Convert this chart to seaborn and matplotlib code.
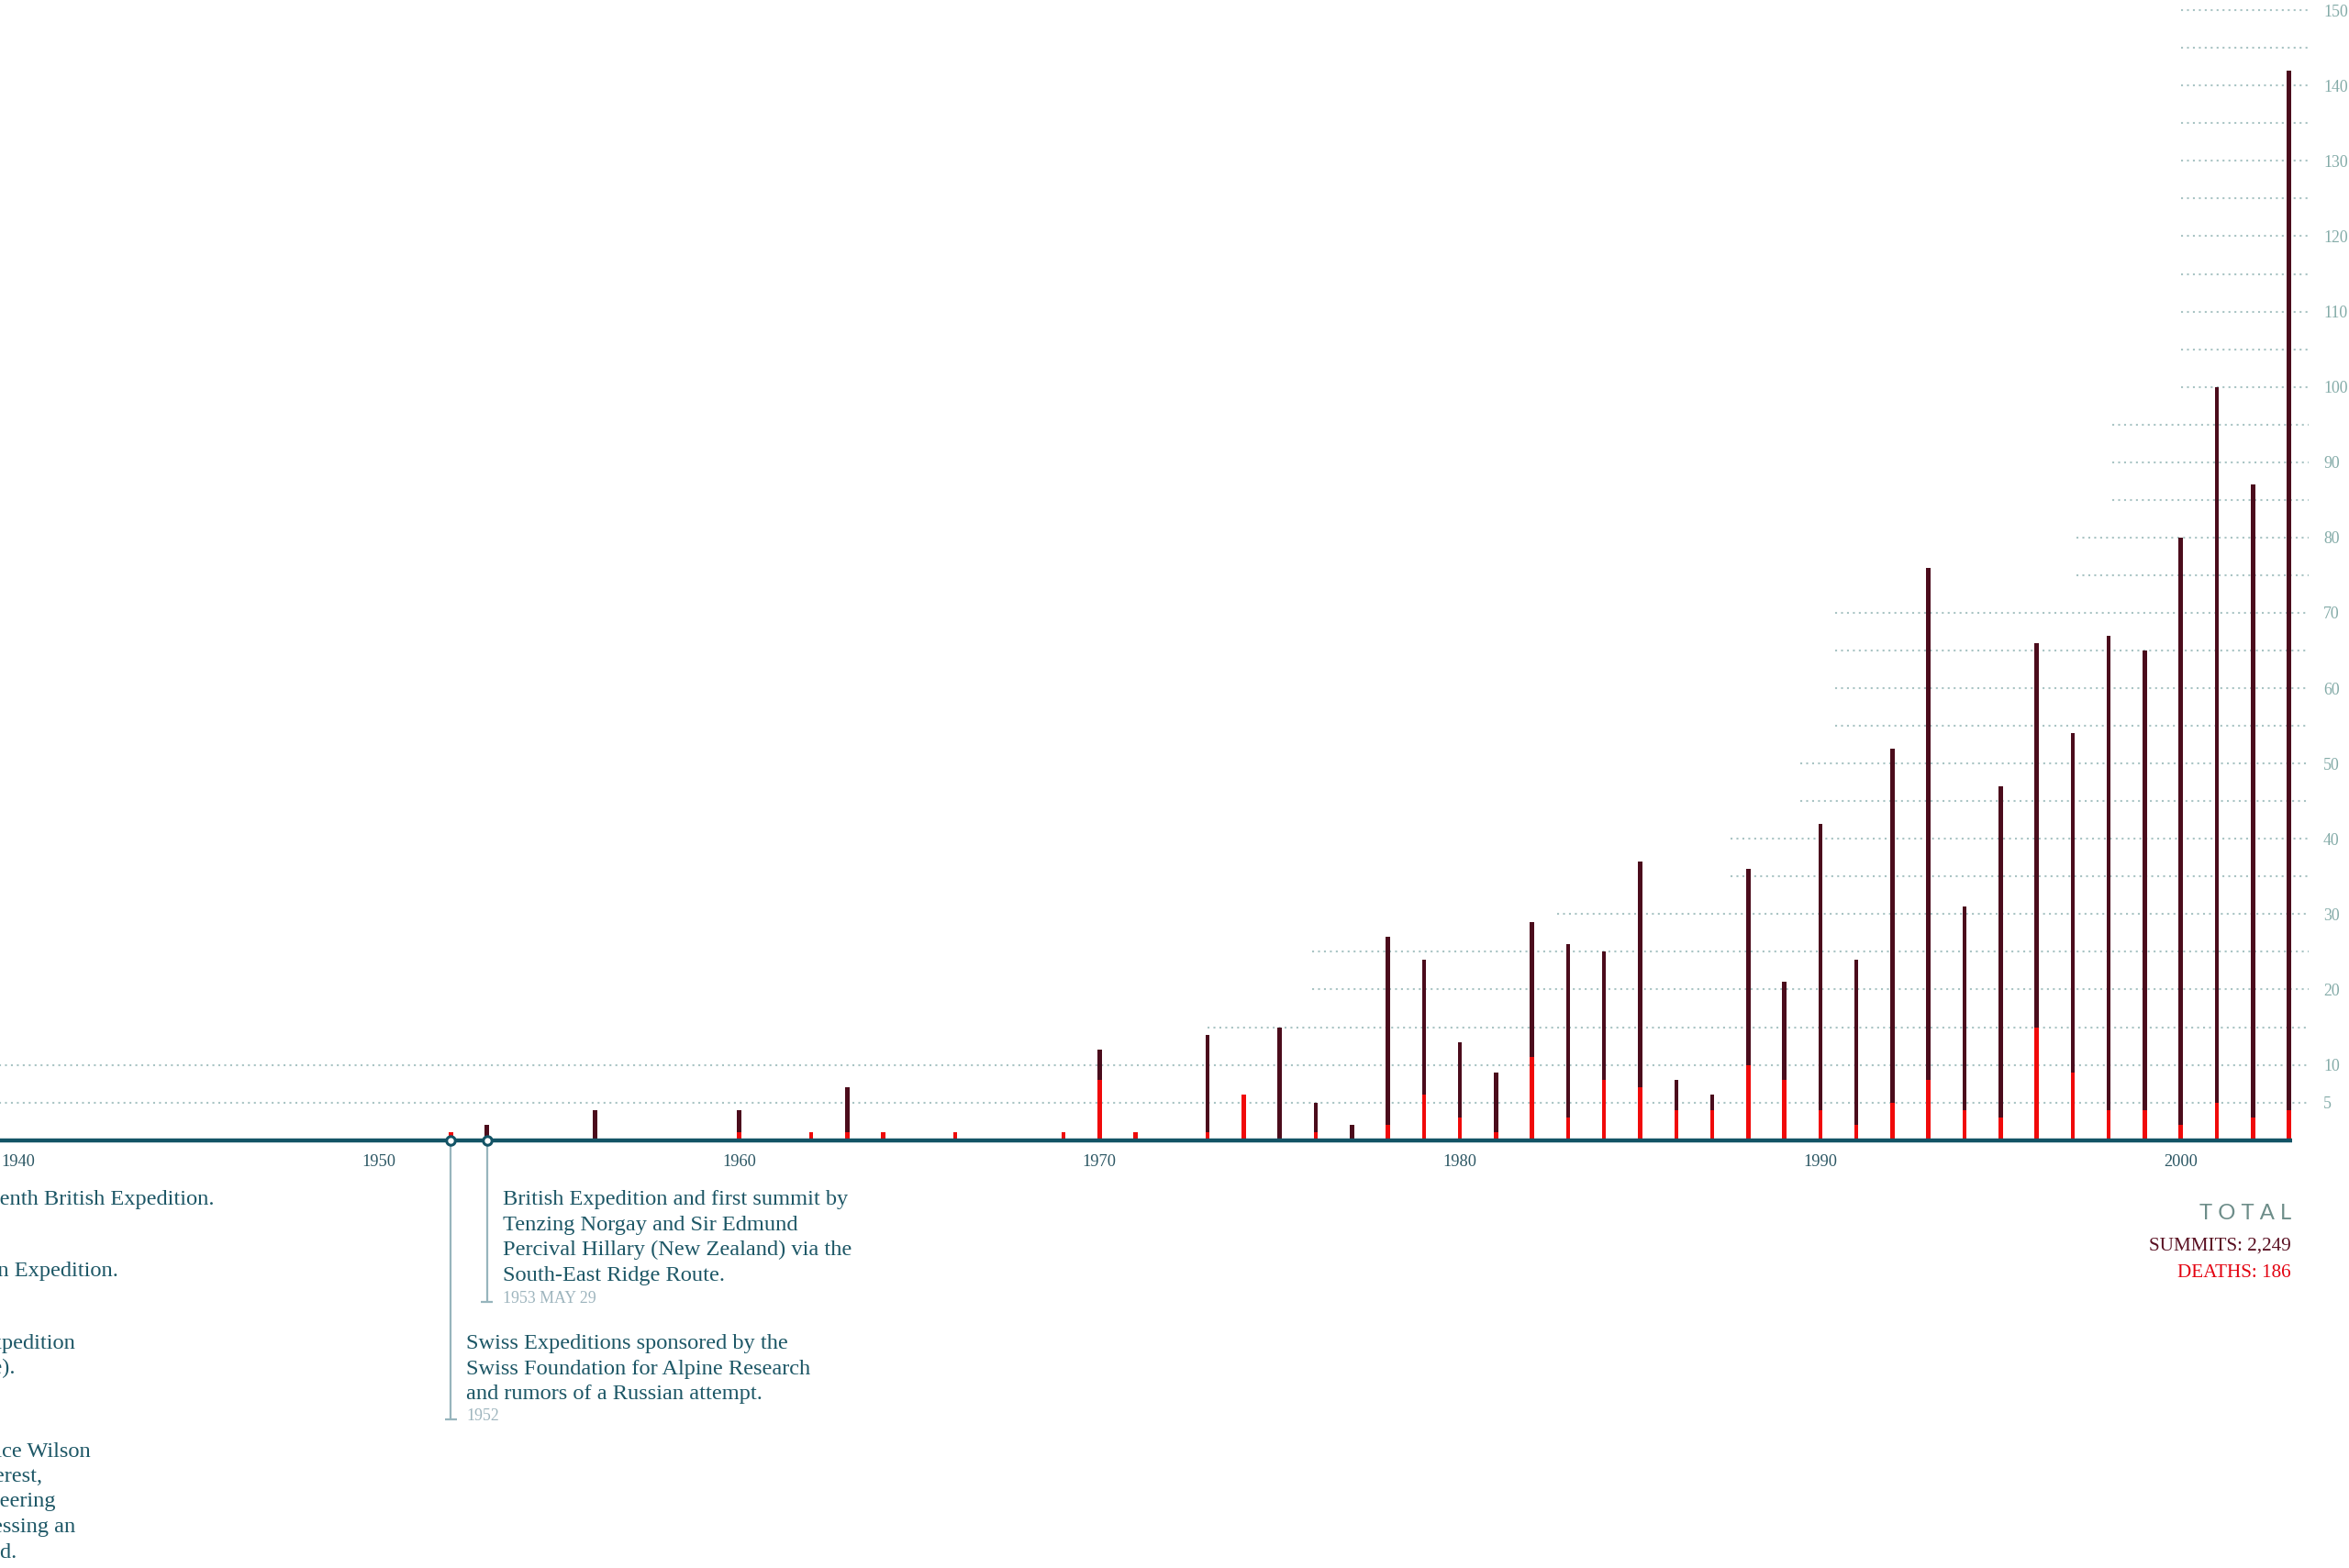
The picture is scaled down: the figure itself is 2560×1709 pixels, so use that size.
import matplotlib
matplotlib.use("Agg")
import matplotlib.pyplot as plt
import seaborn as sns
import pandas as pd

# summits bar (maroon) and deaths bar (red) per year
years = [1952, 1953, 1956, 1960, 1962, 1963, 1964, 1966, 1969, 1970, 1971,
         1973, 1974, 1975, 1976, 1977, 1978, 1979, 1980, 1981, 1982, 1983,
         1984, 1985, 1986, 1987, 1988, 1989, 1990, 1991, 1992, 1993, 1994,
         1995, 1996, 1997, 1998, 1999, 2000, 2001, 2002, 2003]
summits = [0, 2, 4, 4, 0, 7, 0, 0, 0, 12, 0,
           14, 0, 15, 5, 2, 27, 24, 13, 9, 29, 26,
           25, 37, 8, 6, 36, 21, 42, 24, 52, 76, 31,
           47, 66, 54, 67, 65, 80, 100, 87, 142]
deaths = [1, 0, 0, 1, 1, 1, 1, 1, 1, 8, 1,
          1, 6, 0, 1, 0, 2, 6, 3, 1, 11, 3,
          8, 7, 4, 4, 10, 8, 4, 2, 5, 8, 4,
          3, 15, 9, 4, 4, 2, 5, 3, 4]

total_summits = "2,249"
total_deaths = "186"

decades = [1940, 1950, 1960, 1970, 1980, 1990, 2000]
ytick_values = [5, 10, 20, 30, 40, 50, 60, 70, 80, 90, 100, 110, 120, 130, 140, 150]

# dotted guide lines, each starting at its own year (staircase)
grid_levels = [5, 10, 15, 20, 25, 30, 35, 40, 45, 50, 55, 60, 65, 70, 75,
               80, 85, 90, 95, 100, 105, 110, 115, 120, 125, 130, 135, 140, 145, 150]
grid_start = [1939.4, 1939.4, 1973.0, 1975.9, 1975.9, 1982.7, 1987.5, 1987.5,
              1989.45, 1989.45, 1990.4, 1990.4, 1990.4, 1990.4, 1997.1, 1997.1,
              1998.1, 1998.1, 1998.1, 2000.0, 2000.0, 2000.0, 2000.0, 2000.0,
              2000.0, 2000.0, 2000.0, 2000.0, 2000.0, 2000.0]

MAROON = "#4b0c1c"
RED = "#f00a0a"
TEAL = "#135466"
GRID = "#a9c4c4"
YLAB = "#84aba8"
NOTE = "#1d5766"
DATE = "#9db4bd"
LEADER = "#97b5bd"

sns.set_style("white")
plt.rcParams['font.family'] = ['Liberation Serif', 'DejaVu Serif']

fig = plt.figure(figsize=(12.8, 8.545), dpi=200)
ax = fig.add_axes([0, 0, 0.98363, 1])

df = pd.DataFrame({"year": years, "summits": summits, "deaths": deaths})
sns.barplot(data=df, x="year", y="summits", native_scale=True, width=0.115,
            color=MAROON, saturation=1, linewidth=0, errorbar=None, ax=ax, zorder=2)
sns.barplot(data=df, x="year", y="deaths", native_scale=True, width=0.115,
            color=RED, saturation=1, linewidth=0, errorbar=None, ax=ax, zorder=2.1)

ax.hlines(grid_levels, grid_start, 2003.55, colors=GRID, linewidth=0.75,
          linestyles=(0, (1, 2.1)), zorder=1)

ax.set_xlim(1939.493, 2003.6)
ax.set_ylim(-56.8, 151.36)
ax.set_xlabel("")
ax.set_ylabel("")

for s in ["left", "top", "right"]:
    ax.spines[s].set_visible(False)
ax.spines["bottom"].set_position(("data", 0))
ax.spines["bottom"].set_color(TEAL)
ax.spines["bottom"].set_linewidth(1.6)
ax.spines["bottom"].set_bounds(1939.493, 2003.1)
ax.spines["bottom"].set_capstyle("butt")
ax.spines["bottom"].set_zorder(3)

ax.set_xticks(decades)
ax.set_xticklabels([str(d) for d in decades])
ax.tick_params(axis="x", direction="out", length=3.6, width=1.2, color=TEAL,
               pad=2, labelsize=6.6, labelcolor="#2b5663")
ax.yaxis.tick_right()
ax.set_yticks(ytick_values)
ax.set_yticklabels([str(v) for v in ytick_values])
ax.tick_params(axis="y", length=0, pad=5, labelsize=6.4, labelcolor=YLAB)

# events marked on the axis
event_years = [1953, 1952]
event_bottom = [-21.5, -37.1]
ax.vlines(event_years, event_bottom, 0, colors=LEADER, linewidth=0.8, zorder=1.5)
for ev, yb in zip(event_years, event_bottom):
    ax.hlines(yb, ev - 0.165, ev + 0.165, colors=LEADER, linewidth=0.8, zorder=1.5)
ax.plot(event_years, [0, 0], "o", ms=3.4, mfc="white", mec=TEAL, mew=1.1,
        zorder=5, clip_on=False)

step = 3.36
note_1953 = ["British Expedition and first summit by",
             "Tenzing Norgay and Sir Edmund",
             "Percival Hillary (New Zealand) via the",
             "South-East Ridge Route."]
for i, line in enumerate(note_1953):
    ax.text(1953.44, -8.56 - i * step, line, fontsize=8.8, color=NOTE, va="baseline")
ax.text(1953.44, -21.6, "1953 MAY 29", fontsize=6.4, color=DATE, va="baseline")

note_1952 = ["Swiss Expeditions sponsored by the",
             "Swiss Foundation for Alpine Research",
             "and rumors of a Russian attempt."]
for i, line in enumerate(note_1952):
    ax.text(1952.43, -27.7 - i * step, line, fontsize=8.8, color=NOTE, va="baseline")
ax.text(1952.43, -37.2, "1952", fontsize=6.4, color=DATE, va="baseline")

# earlier notes, cut off by the left edge: (text, right end, baseline)
left_notes = [
    ("Seventh British Expedition.", 1945.44, -8.56),
    ("Houston-Tilman Expedition.", 1942.78, -18.06),
    ("Klavs Becker-Larsen solo Expedition", 1941.57, -27.7),
    ("(Tibet side).", 1939.92, -31.0),
    ("Englishman Maurice Wilson", 1942.01, -42.06),
    ("attempts to climb Everest,", 1940.66, -45.35),
    ("without any mountaineering", 1941.04, -48.6),
    ("experience, possessing an", 1941.58, -52.0),
    ("iron will. His body was found.", 1939.95, -55.4),
]
for text, xr, yb in left_notes:
    ax.text(xr, yb, text, fontsize=8.8, color=NOTE, ha="right", va="baseline")

ax.text(2003.06, -10.5, "T O T A L", fontsize=8.6, color="#6d8d89", ha="right",
        va="baseline", family=["Lato", "DejaVu Sans"])
ax.text(2003.06, -14.6, "SUMMITS: " + total_summits, fontsize=7.6, color="#5a1123",
        ha="right", va="baseline")
ax.text(2003.06, -18.2, "DEATHS: " + total_deaths, fontsize=7.6, color="#e3000f",
        ha="right", va="baseline")

fig.savefig("out.png", dpi=200, facecolor="white")
